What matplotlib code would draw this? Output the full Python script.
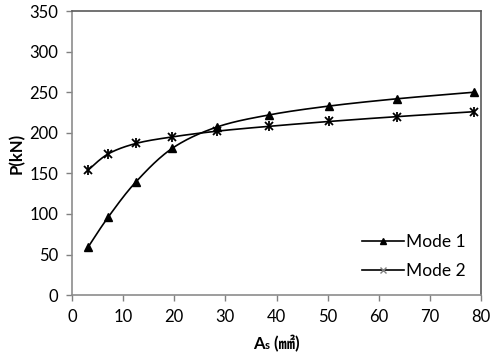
import numpy as np
import matplotlib
matplotlib.use("Agg")
import matplotlib.pyplot as plt
from matplotlib.lines import Line2D
from matplotlib.offsetbox import TextArea, HPacker, AnchoredOffsetbox

plt.rcParams['font.family'] = ['Lato', 'Noto Sans CJK SC', 'DejaVu Sans']

areas = [3.14, 7.07, 12.57, 19.63, 28.27, 38.48, 50.27, 63.62, 78.54]
mode1 = [59, 96, 140, 181, 207, 222, 233, 242, 250]
mode2 = [154, 174, 187, 195, 202, 208, 214, 220, 226]
series_names = ["Mode 1", "Mode 2"]
x_ticks = [0, 10, 20, 30, 40, 50, 60, 70, 80]
y_ticks = [0, 50, 100, 150, 200, 250, 300, 350]


def smooth(x, y, n=30):
    x = np.asarray(x, float); y = np.asarray(y, float)
    px = np.concatenate([[x[0]], x, [x[-1]]])
    py = np.concatenate([[y[0]], y, [y[-1]]])
    xs, ys = [], []
    t = np.linspace(0, 1, n)
    for i in range(1, len(px) - 2):
        p0 = np.array([px[i], py[i]]); p3 = np.array([px[i + 1], py[i + 1]])
        c1 = p0 + (np.array([px[i + 1], py[i + 1]]) - np.array([px[i - 1], py[i - 1]])) / 6
        c2 = p3 - (np.array([px[i + 2], py[i + 2]]) - np.array([px[i], py[i]])) / 6
        b = ((1 - t) ** 3)[:, None] * p0 + (3 * (1 - t) ** 2 * t)[:, None] * c1 + \
            (3 * (1 - t) * t ** 2)[:, None] * c2 + (t ** 3)[:, None] * p3
        xs.append(b[:, 0]); ys.append(b[:, 1])
    return np.concatenate(xs), np.concatenate(ys)


fig = plt.figure(figsize=(5.0, 3.59), dpi=100)
ax = fig.add_axes([0.144, 0.178, 0.818, 0.791])

sx, sy = smooth(areas, mode1)
ax.plot(sx, sy, color='black', lw=1.2)
ax.plot(areas, mode1, ls='none', marker='^', ms=6, color='black')
sx, sy = smooth(areas, mode2)
ax.plot(sx, sy, color='black', lw=1.2)
ax.plot(areas, mode2, ls='none', marker='x', ms=6, mew=1.3, color='black')
ax.plot(areas, mode2, ls='none', marker='|', ms=7, mew=1.3, color='black')

ax.set_xlim(0, 80)
ax.set_ylim(0, 350)
ax.set_xticks(x_ticks)
ax.set_yticks(y_ticks)
ax.tick_params(axis='both', direction='out', length=4, width=1, color='#808080',
               labelsize=12, pad=6)
for s in ['left', 'bottom']:
    ax.spines[s].set_color('#8c8c8c'); ax.spines[s].set_linewidth(1.2)
for s in ['top', 'right']:
    ax.spines[s].set_color('#5a5a5a'); ax.spines[s].set_linewidth(1.2)

ax.set_ylabel('P(kN)', fontsize=12, fontweight='bold', labelpad=3)

fam = ['Lato', 'Noto Sans CJK SC', 'DejaVu Sans']
ta = TextArea('A', textprops=dict(fontsize=12, fontweight='bold', family=fam))
ts = TextArea('s', textprops=dict(fontsize=8, fontweight='bold', family=fam))
tb = TextArea(' (㎟)', textprops=dict(fontsize=12, fontweight='bold', family=fam))
pack = HPacker(children=[ta, ts, tb], align='baseline', pad=0, sep=0)
anc = AnchoredOffsetbox(loc='upper center', child=pack, frameon=False, pad=0,
                        bbox_to_anchor=(0.5, -0.14), bbox_transform=ax.transAxes,
                        borderpad=0)
ax.add_artist(anc)

h1 = Line2D([], [], color='black', lw=1.2, marker='^', ms=5)
h2 = Line2D([], [], color='black', lw=1.2, marker='x', ms=4, mew=1, markeredgecolor='#808080')
ax.legend([h1, h2], series_names, loc='lower right', bbox_to_anchor=(1.0, 0.0),
          frameon=False, fontsize=12.5, handlelength=2.4, handletextpad=0.1, labelspacing=0.75)

fig.savefig('out.png', dpi=100)
